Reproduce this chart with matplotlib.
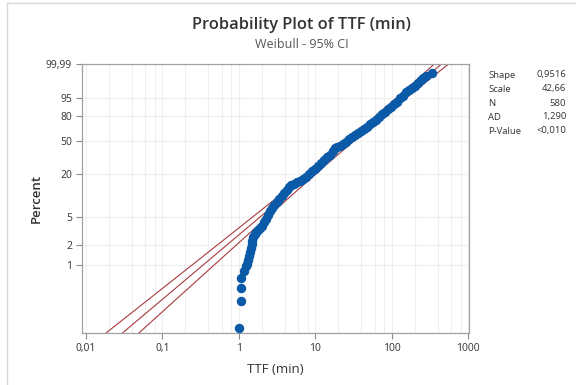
import numpy as np
import matplotlib
matplotlib.use("Agg")
import matplotlib.pyplot as plt
from matplotlib.lines import Line2D
from matplotlib.ticker import FixedLocator, NullFormatter

# Weibull fit shown in the table
shape, scale = 0.9516, 42.66
stats_names = ["Shape", "Scale", "N", "AD", "P-Value"]
stats_values = ["0,9516", "42,66", "580", "1,290", "<0,010"]

# plotted points (TTF in min, percent)
ttf = [1.00, 1.061, 1.061, 1.068, 1.185, 1.247,
       1.277, 1.315, 1.355, 1.396, 1.430, 1.469, 1.504, 1.550, 1.621, 1.694,
       1.798, 1.909, 2.026, 2.150, 2.282, 2.423, 2.571, 2.729, 2.896, 3.120,
       3.362, 3.623, 3.902, 4.203, 4.528, 4.878, 5.255, 5.746, 6.284, 6.871,
       7.511, 8.216, 8.983, 9.822, 10.74, 11.75, 12.85, 14.05, 15.36, 16.80,
       18.09, 19.49, 21.31, 23.31, 25.48, 27.86, 30.46, 33.31, 36.42, 39.83,
       43.55, 47.63, 52.08, 56.95, 62.28, 68.10, 74.47, 81.43, 89.05, 97.37,
       106.5, 116.4, 127.3, 139.2, 152.2, 166.4, 182.0, 199.0, 217.6, 237.9,
       260.2, 284.6, 333.2]
pct = [0.1206, 0.2929, 0.4652, 0.6375, 0.8098, 0.982,
       1.036, 1.186, 1.359, 1.555, 1.780, 2.038, 2.292, 2.580, 2.854, 3.103,
       3.263, 3.434, 3.733, 4.195, 4.713, 5.386, 6.044, 6.780, 7.489, 8.258,
       9.103, 10.04, 11.06, 12.17, 13.18, 14.05, 14.73, 15.43, 16.17, 16.94,
       18.30, 19.77, 21.65, 23.32, 25.11, 27.42, 29.87, 32.50, 34.80, 38.77,
       41.92, 43.00, 44.10, 45.77, 48.67, 51.62, 54.64, 57.10, 59.61, 62.11,
       64.61, 67.11, 70.20, 73.27, 75.64, 78.50, 81.78, 84.36, 86.73, 88.91,
       90.87, 92.62, 94.71, 95.92, 97.28, 98.03, 98.40, 98.89, 99.31, 99.56,
       99.73, 99.80, 99.90]

# 95% CI band
ci_pct = [0.1, 0.3, 1, 3, 10, 30, 63.2, 90, 99, 99.99]
ci_left = [0.01830, 0.06281, 0.2432, 0.8409, 3.349, 12.79, 38.16, 89.35, 178.7, 355.0]
ci_right = [0.04930, 0.1447, 0.4733, 1.4077, 4.797, 16.30, 47.69, 117.5, 252.3, 544.8]

yticks = [1, 2, 5, 20, 50, 80, 95, 99.99]
ytick_labels = ["1", "2", "5", "20", "50", "80", "95", "99,99"]
xticks = [0.01, 0.1, 1, 10, 100, 1000]
xtick_labels = ["0,01", "0,1", "1", "10", "100", "1000"]


def fwd(p):
    p = np.clip(np.asarray(p, dtype=float), 1e-9, 100 - 1e-9)
    return np.log(-np.log(1 - p / 100.0))


def inv(y):
    return 100.0 * (1 - np.exp(-np.exp(np.asarray(y, dtype=float))))


plt.rcParams['font.family'] = ['Open Sans', 'DejaVu Sans']

fig = plt.figure(figsize=(5.76, 3.85), dpi=100)
ax = fig.add_axes([0.1418, 0.135, 0.6716, 0.6975])
ax.set_xscale("log")
ax.set_yscale("function", functions=(fwd, inv))
ax.set_xlim(0.0088, 1010)
ax.set_ylim(0.1, 99.99)

# fitted line from shape / scale
pl = np.array([0.1, 99.99])
xl = scale * (-np.log(1 - pl / 100)) ** (1 / shape)
red = "#a83a3e"
ax.plot(xl, pl, color=red, lw=0.8, zorder=2)
ax.plot(ci_left, ci_pct, color=red, lw=0.8, zorder=2)
ax.plot(ci_right, ci_pct, color=red, lw=0.8, zorder=2)

ax.plot(ttf, pct, "o", color="#0b5aa8", ms=5.8, mec="#0b5aa8", zorder=3)

ax.xaxis.set_major_locator(FixedLocator(xticks))
ax.set_xticklabels(xtick_labels)
minors = [m * 10.0 ** e for e in range(-2, 3) for m in (2, 4, 6, 8)]
ax.xaxis.set_minor_locator(FixedLocator(minors))
ax.xaxis.set_minor_formatter(NullFormatter())
ax.yaxis.set_major_locator(FixedLocator(yticks))
ax.set_yticklabels(ytick_labels)
ax.yaxis.set_minor_locator(FixedLocator([]))

ax.grid(True, which="both", color="#efefef", lw=0.8, zorder=0)
ax.set_axisbelow(True)
ax.tick_params(which="major", length=4, width=0.8, color="#8c8c8c",
               labelsize=7.5, labelcolor="#333333", pad=3)
ax.tick_params(which="minor", length=0)
for s in ax.spines.values():
    s.set_color("#a0a0a0")
    s.set_linewidth(0.9)

ax.set_xlabel("TTF (min)", fontsize=9.5, color="#333333", labelpad=7)
ax.set_ylabel("Percent", fontsize=9.5, color="#333333", labelpad=2,
              fontweight="semibold")

fig.text(0.524, 0.935, "Probability Plot of TTF (min)", ha="center", va="center",
         fontsize=11.8, fontweight="semibold", color="#333333")
fig.text(0.524, 0.885, "Weibull - 95% CI", ha="center", va="center",
         fontsize=9, color="#555555")

for i, (n, v) in enumerate(zip(stats_names, stats_values)):
    yy = 1 - (75 + 14 * i) / 385
    fig.text(488 / 576, yy, n, ha="left", va="center", fontsize=6.8, color="#333333")
    fig.text(566 / 576, yy, v, ha="right", va="center", fontsize=6.8, color="#333333")

# light frame at top and left
fig.add_artist(Line2D([7 / 576, 1], [1 - 3 / 385, 1 - 3 / 385], color="#d8d8d8", lw=1))
fig.add_artist(Line2D([7 / 576, 7 / 576], [0, 1 - 3 / 385], color="#d8d8d8", lw=1))

fig.savefig("out.png", dpi=100)
